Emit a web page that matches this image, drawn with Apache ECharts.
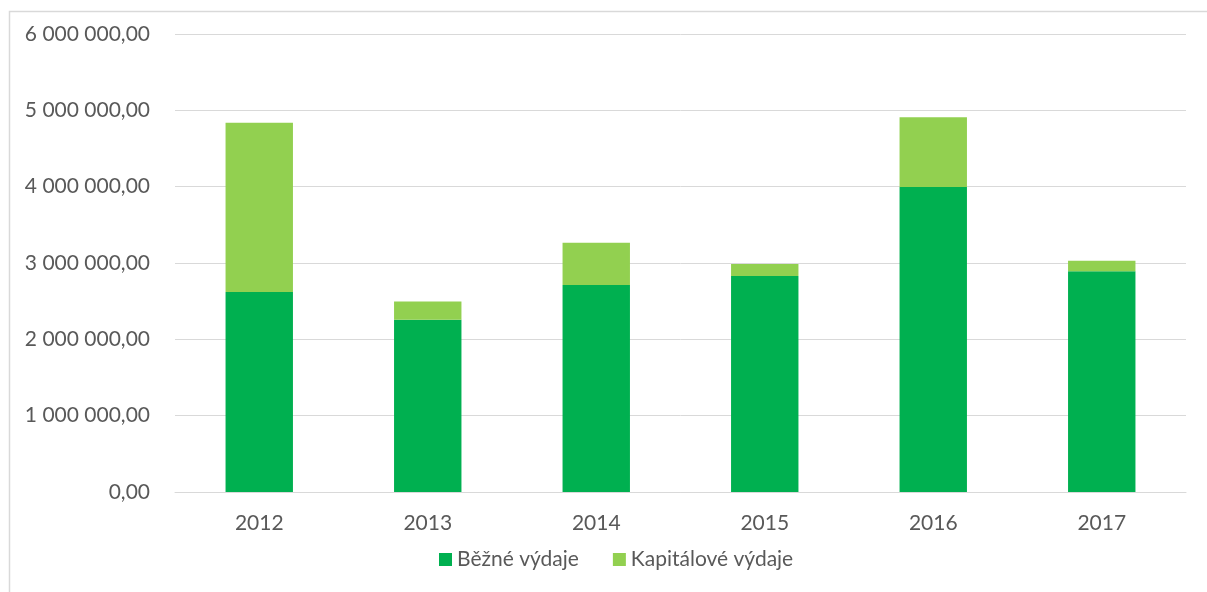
<!DOCTYPE html>
<html>
<head>
<meta charset="utf-8">
<script src="https://cdn.jsdelivr.net/npm/echarts@6/dist/echarts.min.js"></script>
<style>
  html, body { margin: 0; padding: 0; background: #fff; }
  #chart { width: 1207px; height: 592px; }
</style>
</head>
<body>
<div id="chart"></div>
<script>
// Výdaje podle roku (Kč)
const years = ['2012', '2013', '2014', '2015', '2016', '2017'];
const bezneVydaje = [2621000, 2257000, 2713000, 2831000, 3994000, 2891000];
const kapitaloveVydaje = [2217000, 240000, 551000, 157000, 914000, 137000];
const seriesNames = ['Běžné výdaje', 'Kapitálové výdaje'];

const FONT = 'Lato, "Open Sans", sans-serif';
const TEXT = '#595959';
const SIZE = 21;

function formatCz(v) {
  return Math.round(v).toString().replace(/\B(?=(\d{3})+(?!\d))/g, ' ') + ',00';
}

const chart = echarts.init(document.getElementById('chart'), null, { renderer: 'canvas' });
chart.setOption({
  animation: false,
  backgroundColor: '#fff',
  graphic: [{
    type: 'rect',
    left: 7, top: 9,
    shape: { width: 1230, height: 620 },
    style: { fill: 'none', stroke: '#d9d9d9', lineWidth: 1.5 },
    silent: true
  }],
  grid: { left: 175, right: 21, top: 34, bottom: 100, containLabel: false },
  legend: {
    bottom: 17,
    left: 434,
    itemWidth: 13,
    itemHeight: 13,
    itemGap: 34,
    icon: 'rect',
    textStyle: { color: TEXT, fontSize: SIZE, fontFamily: FONT },
    data: seriesNames
  },
  xAxis: {
    type: 'category',
    data: years,
    axisLine: { lineStyle: { color: '#d9d9d9', width: 1 } },
    axisTick: { show: false },
    axisLabel: { color: TEXT, fontSize: SIZE, fontFamily: FONT, margin: 21 }
  },
  yAxis: {
    type: 'value',
    min: 0,
    max: 6000000,
    interval: 1000000,
    axisLine: { show: false },
    axisTick: { show: false },
    splitLine: { lineStyle: { color: '#d9d9d9', width: 1 } },
    axisLabel: {
      color: TEXT, fontSize: SIZE, fontFamily: FONT, margin: 25,
      formatter: formatCz
    }
  },
  series: [
    {
      name: seriesNames[0],
      type: 'bar',
      stack: 'total',
      data: bezneVydaje,
      barWidth: '40%',
      itemStyle: { color: '#00B050' }
    },
    {
      name: seriesNames[1],
      type: 'bar',
      stack: 'total',
      data: kapitaloveVydaje,
      barWidth: '40%',
      itemStyle: { color: '#92D050' }
    }
  ]
});
</script>
</body>
</html>
